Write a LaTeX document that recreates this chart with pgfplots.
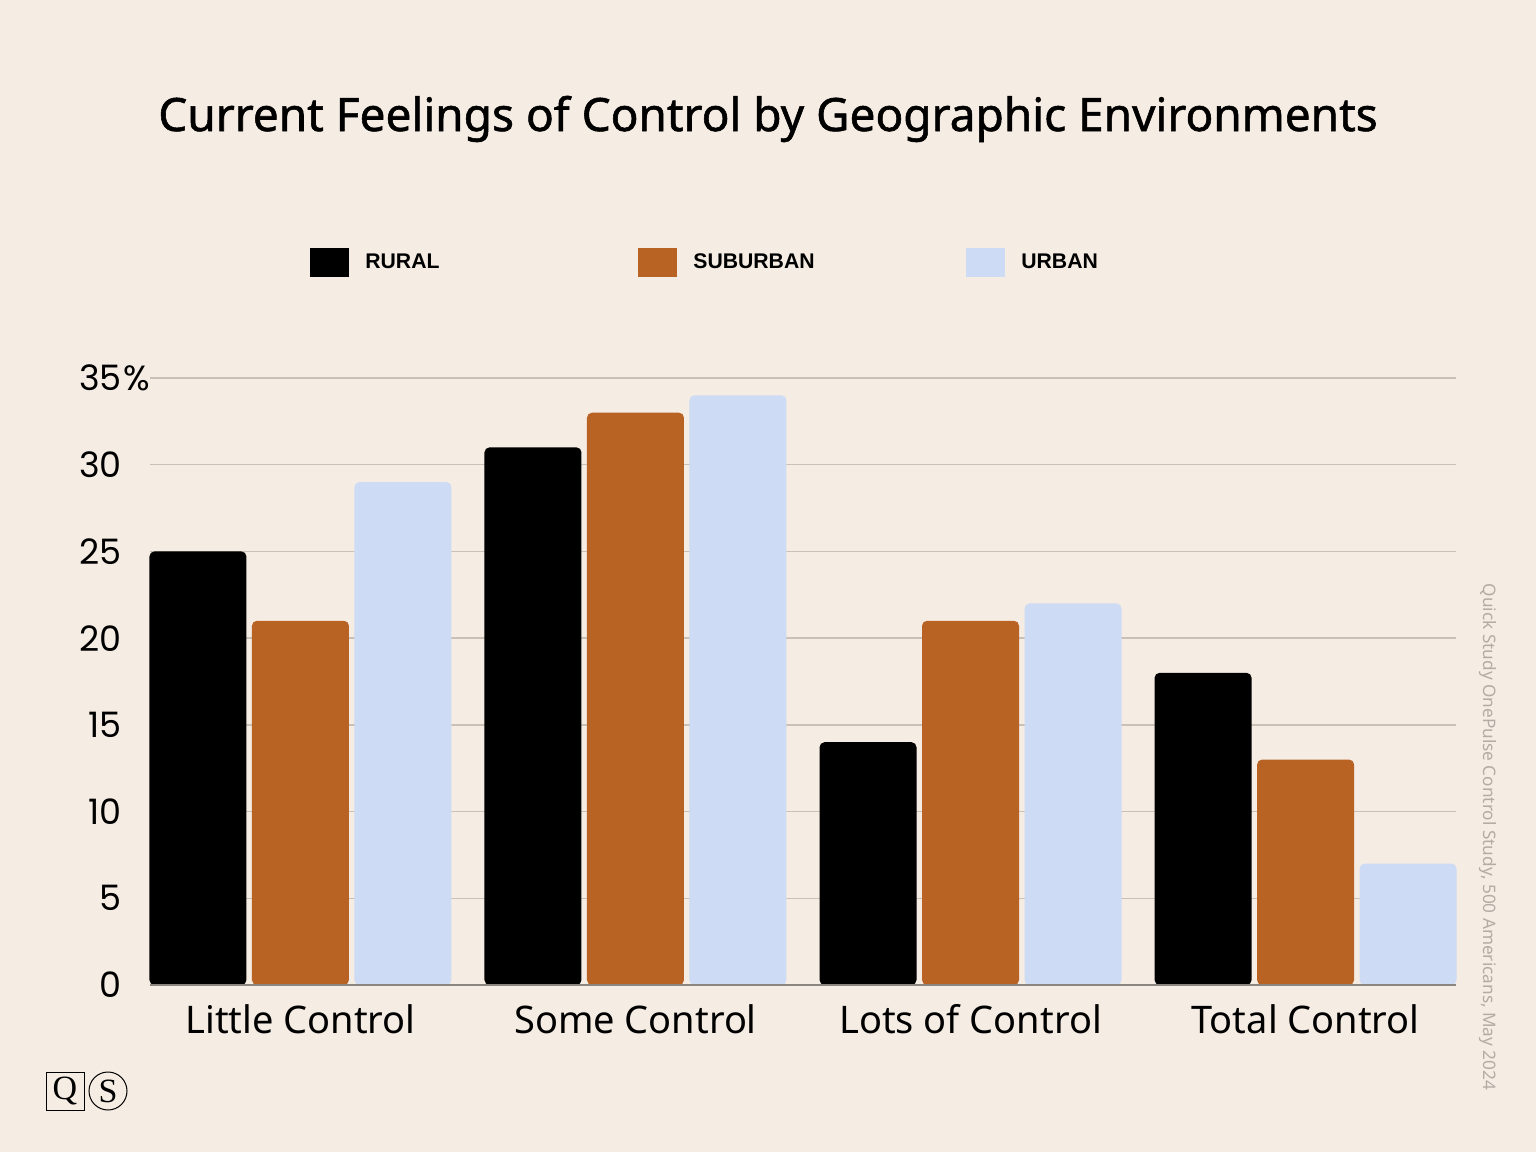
\documentclass[border=0pt]{standalone}
\usepackage{fontspec}
\usepackage{pgfplots}
\pgfplotsset{compat=1.18}
\setmainfont{Noto Sans}
\newfontfamily\titlefont[FakeBold=1.2]{Noto Sans}
\newfontfamily\tickfont{Poppins}
\newfontfamily\legfont{Liberation Sans}
\newfontfamily\serifont{Liberation Serif}
\definecolor{bg}{HTML}{F5ECE3}
\definecolor{rural}{HTML}{000000}
\definecolor{suburban}{HTML}{B86224}
\definecolor{urban}{HTML}{CDDBF5}
\definecolor{gridc}{HTML}{C9C0B6}
\definecolor{basec}{HTML}{8C8680}
\definecolor{notec}{HTML}{B3ACA5}
\begin{document}
\begin{tikzpicture}
\fill[bg] (0,0) rectangle (768pt,576pt);
\begin{axis}[
  at={(75pt,83.5pt)}, anchor=south west,
  scale only axis,
  width=653pt, height=303.5pt,
  ybar=2.75pt, bar width=48.5pt,
  xmin=-0.449, xmax=3.449,
  ymin=0, ymax=35,
  xtick=data,
  xticklabels={Little Control, Some Control, Lots of Control, Total Control},
  ytick={0,5,...,35},
  yticklabels={0,5,10,15,20,25,30,35\rlap{\hspace{1pt}\%}},
  axis line style={draw=none},
  major tick length=0pt,
  ymajorgrids,
  grid style={gridc, line width=0.75pt},
  xticklabel style={font=\fontsize{19}{22}\selectfont, anchor=north, inner sep=0pt, yshift=-9.5pt},
  yticklabel style={font=\tickfont\fontsize{17.5}{20}\selectfont, anchor=east, inner sep=0pt, xshift=-14pt},
  /pgf/number format/assume math mode=true,
  title={\titlefont\fontsize{23}{27}\selectfont Current Feelings of Control by Geographic Environments},
  title style={at={(0.4732,1.3871)}, anchor=base, inner sep=0pt},
  legend columns=3,
  legend style={at={(0.1179,1.1905)}, anchor=west, draw=none, fill=none,
    font=\legfont\bfseries\fontsize{10.6}{13}\selectfont,
    nodes={inner sep=0pt},
    /tikz/every odd column/.style={column sep=8pt}},
  legend image code/.code={\fill[#1, sharp corners] (0pt,-7.25pt) rectangle (19.5pt,7.25pt);},
  every axis plot/.append style={draw=none, rounded corners=2.5pt},
  clip=false,
]
\addplot[fill=rural] coordinates {(0,25) (1,31) (2,14) (3,18)};
\addlegendentry{\makebox[136.5pt][l]{RURAL}}
\addplot[fill=suburban] coordinates {(0,21) (1,33) (2,21) (3,13)};
\addlegendentry{\makebox[136.5pt][l]{SUBURBAN}}
\addplot[fill=urban] coordinates {(0,29) (1,34) (2,22) (3,7)};
\addlegendentry{\makebox[50pt][l]{URBAN}}
\draw[basec, line width=0.75pt] (rel axis cs:0,0) -- (rel axis cs:1,0);
\node[rotate=-90, text=notec, font=\fontsize{8.6}{10}\selectfont, inner sep=0pt]
  at (rel axis cs:1.0245,0.2438) {Quick Study OnePulse Control Study, 500 Americans, May 2024};
\end{axis}
\draw[line width=0.5pt] (23pt,21pt) rectangle (42pt,40pt);
\node[font=\serifont\fontsize{17}{20}\selectfont, inner sep=0pt] at (32.5pt,30.5pt) {Q};
\draw[line width=0.5pt] (54pt,30.5pt) circle (9.5pt);
\node[font=\serifont\fontsize{17}{20}\selectfont, inner sep=0pt] at (54pt,30.5pt) {S};
\pgfresetboundingbox
\path (0,0) rectangle (768pt,576pt);
\end{tikzpicture}
\end{document}
